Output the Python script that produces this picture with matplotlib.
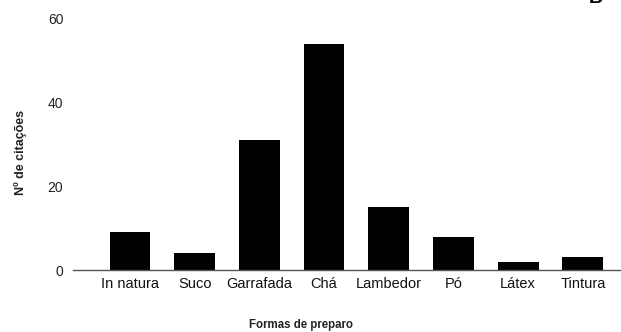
import matplotlib
matplotlib.use("Agg")
import matplotlib.pyplot as plt

categorias = ["In natura", "Suco", "Garrafada", "Chá", "Lambedor", "Pó", "Látex", "Tintura"]
citacoes = [9, 4, 31, 54, 15, 8, 2, 3]
yticks = [0, 20, 40, 60]

plt.rcParams["font.family"] = ["Liberation Sans", "DejaVu Sans"]

fig = plt.figure(figsize=(6.21, 3.32), dpi=100)
ax = fig.add_axes([0.1176, 0.1867, 0.8824, 0.7561])

x = range(len(categorias))
ax.bar(x, citacoes, width=0.63, color="black")

ax.set_xlim(-0.88, 7.59)
ax.set_ylim(0, 60)
ax.set_yticks(yticks)
ax.set_xticks(list(x))
ax.set_xticklabels(categorias, fontsize=10.5, color="#111111")
ax.tick_params(axis="y", length=0, labelsize=10, labelcolor="#222222", pad=7)
ax.tick_params(axis="x", length=0, pad=5)

for s in ["top", "right", "left"]:
    ax.spines[s].set_visible(False)
ax.spines["bottom"].set_color("#555555")
ax.spines["bottom"].set_linewidth(1.0)

fig.text(0.033, 0.54, "Nº de citações", rotation=90, ha="center", va="center",
         fontsize=9, fontweight="bold", color="#222222")
fig.text(0.484, 0.022, "Formas de preparo", ha="center", va="center",
         fontsize=8.3, fontweight="bold", color="#222222")

# letra do painel, cortada no topo como na figura original
fig.text(0.96, 0.99, "B", ha="center", va="baseline", fontsize=14,
         fontweight="bold", color="black")

fig.savefig("out.png", dpi=100)
